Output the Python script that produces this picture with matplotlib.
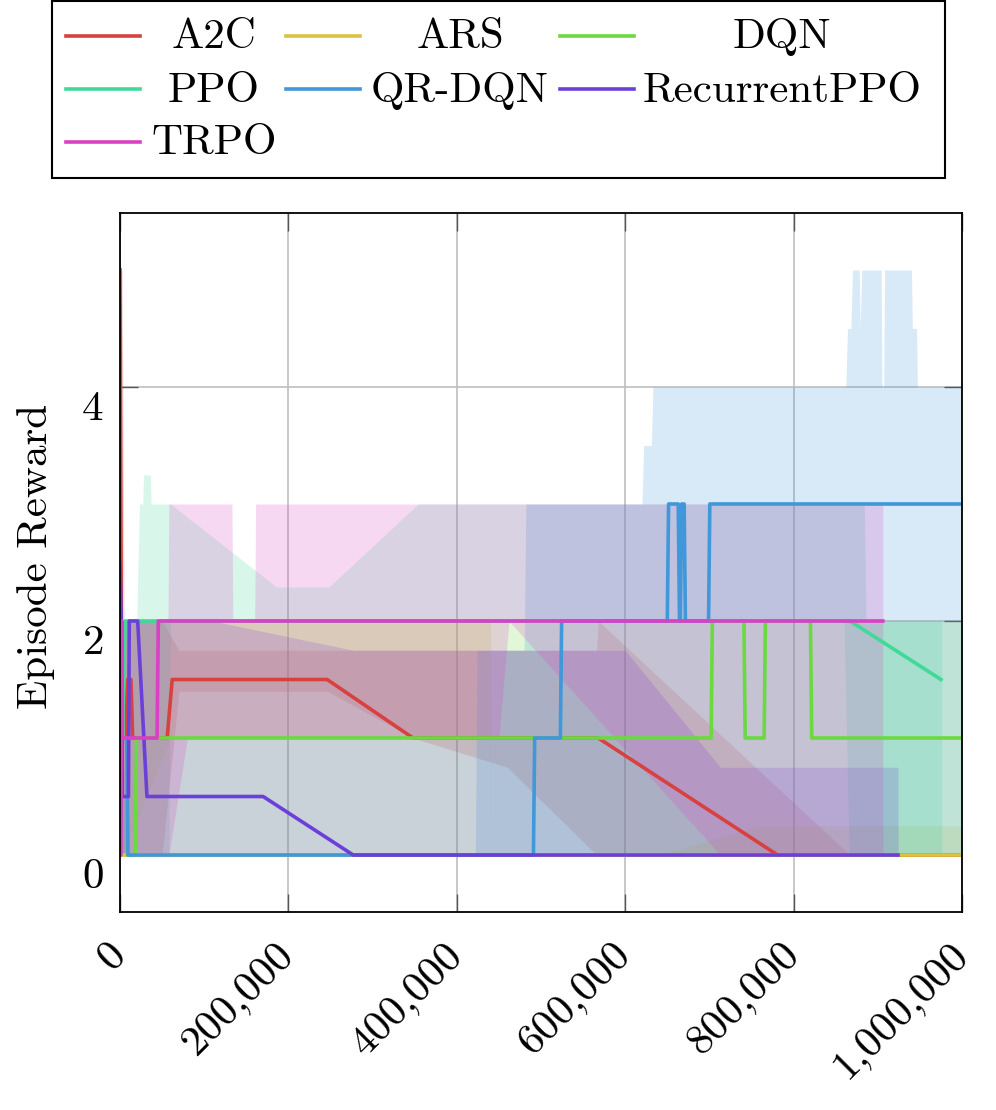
import matplotlib
matplotlib.use("Agg")
import matplotlib.pyplot as plt
import matplotlib.transforms as mtransforms
from matplotlib.lines import Line2D
from matplotlib.patches import Rectangle

plt.rcParams['font.family'] = 'cmr10'
plt.rcParams['axes.formatter.use_mathtext'] = True
plt.rcParams['font.size'] = 31

# ---- data ----
algos = ['A2C', 'ARS', 'DQN', 'PPO', 'QR-DQN', 'RecurrentPPO', 'TRPO']
colors = ['#d94040', '#d9c340', '#6bd940', '#40d997', '#4097d9', '#6b40d9', '#d940c3']

# median curves
a2c_x = [0, 1500, 3000, 6000, 9000, 13000, 15000, 18000, 56000, 62000, 246000, 348000, 568000, 781000, 1000000]
a2c_y = [5, 2, 1.5, 1.0, 1.5, 1.5, 1.0, 1.0, 1.0, 1.5, 1.5, 1.0, 1.0, 0, 0]
ars_x = [0, 500000, 1000000]
ars_y = [0, 0, 0]
dqn_x = [0, 2500, 4000, 8000, 9000, 18000, 19500, 702000, 703500, 741000, 742500,
         765000, 766500, 820000, 821500, 1000000]
dqn_y = [0, 1.67, 1, 1, 0, 0, 1, 1, 2, 2, 1, 1, 2, 2, 1, 1]
ppo_x = [0, 3000, 6000, 10000, 867000, 975000]
ppo_y = [1, 1, 2, 2, 2, 1.5]
qrdqn_x = [0, 3000, 4500, 8000, 9500, 491000, 492500, 523000, 524500, 650000, 651500,
           663000, 664500, 665500, 667000, 670000, 671500, 699000, 700500, 1000000]
qrdqn_y = [0, 1, 1, 1, 0, 0, 1, 1, 2, 2, 3, 3, 2, 2, 3, 3, 2, 2, 3, 3]
rppo_x = [0, 1500, 2500, 10000, 11000, 12500, 21000, 32000, 170000, 277000, 924000]
rppo_y = [2.5, 2, 0.5, 0.5, 2, 2, 2, 0.5, 0.5, 0, 0]
trpo_x = [0, 1000, 2000, 3000, 44000, 45500, 906000]
trpo_y = [0, 0, 2, 1, 1, 2, 2]

# min / max bands
a2c_bx = [0, 2500, 5000, 50000, 70000, 246000, 348000, 460000, 566000, 568000, 867000, 1000000]
a2c_lo = [0, 0, 0, 0, 1.4, 1.4, 1, 0.75, 0, 0, 0, 0]
a2c_hi = [5, 5, 2, 2, 1.75, 1.75, 1.75, 1.75, 1.75, 2, 0, 0]
ars_bx = [0, 3000, 60000, 440000, 441000, 640000, 760000, 1000000]
ars_lo = [0, 0, 1, 1, 0, 0, 0, 0]
ars_hi = [0, 2, 2, 2, 0, 0, 0.25, 0.25]
dqn_bx = [0, 3000, 1000000]
dqn_lo = [0, 0, 0]
dqn_hi = [0, 2, 2]
ppo_bx = [0, 20000, 23000, 27000, 28000, 36000, 37000, 58000, 60000, 186000, 248000,
          354000, 860000, 866000, 884000, 886000, 976000]
ppo_lo = [0, 0, 0, 0, 0, 0, 0, 0, 2, 2, 2, 2, 2, 0, 0, 0, 0]
ppo_hi = [2, 2, 3, 3, 3.25, 3.25, 3, 3, 3, 2.29, 2.29, 3, 3, 3, 3, 2, 2]
qrdqn_bx = [0, 3000, 10000, 422000, 424000, 480000, 482000, 620000, 622000, 631000,
            633000, 862000, 864000, 868000, 870000, 878000, 879000, 881000, 904000,
            905000, 907000, 908000, 940000, 941000, 946000, 947000, 1000000]
qrdqn_lo = [0] * 27
qrdqn_hi = [1, 1, 0, 0, 1.75, 1.75, 3, 3, 3.5, 3.5, 4, 4, 4.5, 4.5, 5, 5, 4.5, 5, 5,
            4, 4, 5, 5, 4.5, 4.5, 4, 4]
rppo_bx = [0, 3000, 110000, 277000, 600000, 713000, 924000]
rppo_lo = [0, 0, 0, 0, 0, 0, 0]
rppo_hi = [2.5, 2, 2, 1.75, 1.75, 0.75, 0.75]
trpo_bx = [0, 57000, 58000, 80000, 133000, 134000, 160000, 161000, 450000, 462000,
           713000, 906000]
trpo_lo = [0, 0, 0, 1, 1, 1, 1, 1, 1, 2, 0, 0]
trpo_hi = [2, 2, 3, 3, 3, 2, 2, 3, 3, 3, 3, 3]

lines = [(a2c_x, a2c_y), (ars_x, ars_y), (dqn_x, dqn_y), (ppo_x, ppo_y),
         (qrdqn_x, qrdqn_y), (rppo_x, rppo_y), (trpo_x, trpo_y)]
bands = [(a2c_bx, a2c_lo, a2c_hi), (ars_bx, ars_lo, ars_hi), (dqn_bx, dqn_lo, dqn_hi),
         (ppo_bx, ppo_lo, ppo_hi), (qrdqn_bx, qrdqn_lo, qrdqn_hi),
         (rppo_bx, rppo_lo, rppo_hi), (trpo_bx, trpo_lo, trpo_hi)]

xticks = [0, 200000, 400000, 600000, 800000, 1000000]
xtick_labels = ['0', '200,000', '400,000', '600,000', '800,000', '1,000,000']
yticks = [0, 2, 4]

# ---- figure ----
W, H = 996, 1110
fig = plt.figure(figsize=(W / 100, H / 100), dpi=100)
ax = fig.add_axes([120 / W, 1 - 912 / H, 842 / W, 699 / H])

for (bx, lo, hi), c in zip(bands, colors):
    ax.fill_between(bx, lo, hi, color=c, alpha=0.2, linewidth=0)
for (x, y), c, name in zip(lines, colors, algos):
    ax.plot(x, y, color=c, lw=2.6, label=name)

ax.set_xlim(0, 1000000)
ax.set_ylim(-0.487, 5.487)
ax.set_xticks(xticks)
ax.set_xticklabels(xtick_labels)
ax.set_yticks(yticks)
ax.grid(True, color='#bfbfbf', lw=1.2)
ax.set_axisbelow(True)
ax.tick_params(direction='in', length=13, width=1, color='#555555',
               top=True, right=True)
ax.tick_params(axis='x', pad=27)
ax.tick_params(axis='y', pad=12)
for s in ax.spines.values():
    s.set_linewidth(1.3)
plt.setp(ax.get_xticklabels(), rotation=45, ha='right', va='center',
         rotation_mode='anchor')
# tick labels on y sit a bit below their grid lines
off = mtransforms.ScaledTranslation(0, -0.18, fig.dpi_scale_trans)
for lbl in ax.get_yticklabels():
    lbl.set_transform(lbl.get_transform() + off)

ax.set_ylabel('Episode Reward')
ax.yaxis.set_label_coords(-0.077, 0.508)

# ---- legend box ----
def fx(px):
    return px / W

def fy(py):
    return 1 - py / H

fig.add_artist(Rectangle((fx(52), fy(178)), fx(945) - fx(52), fy(1) - fy(178),
                         transform=fig.transFigure, fill=False, lw=1.5, ec='black'))
col_handle = [(66, 140), (286, 360), (560, 634)]
col_text = [214, 460, 782]
row_y = [36, 89, 142]
for i, (name, c) in enumerate(zip(algos, colors)):
    r, k = divmod(i, 3)
    x0, x1 = col_handle[k]
    fig.add_artist(Line2D([fx(x0), fx(x1)], [fy(row_y[r]), fy(row_y[r])],
                          transform=fig.transFigure, color=c, lw=2.6))
    fig.text(fx(col_text[k]), fy(row_y[r] + 12.5), name, ha='center', va='baseline')

fig.savefig('out.png', dpi=100)
